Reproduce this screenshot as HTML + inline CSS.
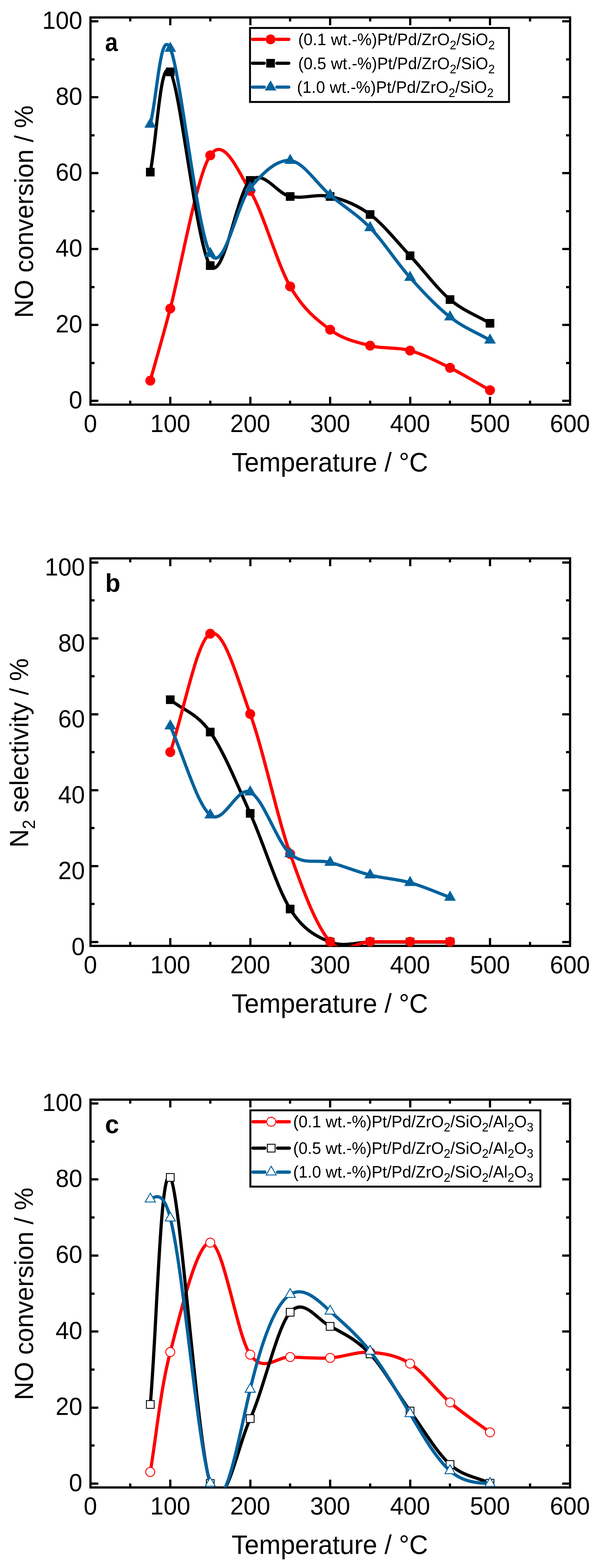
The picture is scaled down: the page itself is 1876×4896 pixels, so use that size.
<!DOCTYPE html>
<html lang="en"><head><meta charset="utf-8"><title>NO conversion and N2 selectivity versus temperature</title>
<style>html,body{margin:0;padding:0;background:#fff}body{width:1876px;height:4896px;overflow:hidden}svg{display:block}text{font-family:'Liberation Sans', Arial, sans-serif;font-size:75px;fill:#000}</style>
</head><body>
<svg width="1876" height="4896" viewBox="0 0 1876 4896">
<rect width="1876" height="4896" fill="#fff"/>
<g>
<rect x="282.5" y="54.5" width="1497" height="1209" fill="none" stroke="#000" stroke-width="7.0" shape-rendering="crispEdges"/>
<path d="M282.5 1251.5h24.3 M1779.5 1251.5h-24.3 M282.5 1133h12.6 M1779.5 1133h-12.6 M282.5 1014.5h24.3 M1779.5 1014.5h-24.3 M282.5 896h12.6 M1779.5 896h-12.6 M282.5 777.5h24.3 M1779.5 777.5h-24.3 M282.5 659h12.6 M1779.5 659h-12.6 M282.5 540.5h24.3 M1779.5 540.5h-24.3 M282.5 422h12.6 M1779.5 422h-12.6 M282.5 303.5h24.3 M1779.5 303.5h-24.3 M282.5 185h12.6 M1779.5 185h-12.6 M282.5 66.5h24.3 M1779.5 66.5h-24.3 M406.75 54.5v12.6 M406.75 1263.5v-12.6 M531.5 54.5v24.3 M531.5 1263.5v-24.3 M656.25 54.5v12.6 M656.25 1263.5v-12.6 M781 54.5v24.3 M781 1263.5v-24.3 M905.75 54.5v12.6 M905.75 1263.5v-12.6 M1030.5 54.5v24.3 M1030.5 1263.5v-24.3 M1155.25 54.5v12.6 M1155.25 1263.5v-12.6 M1280 54.5v24.3 M1280 1263.5v-24.3 M1404.75 54.5v12.6 M1404.75 1263.5v-12.6 M1529.5 54.5v24.3 M1529.5 1263.5v-24.3 M1654.25 54.5v12.6 M1654.25 1263.5v-12.6" stroke="#000" stroke-width="7.0" fill="none" shape-rendering="crispEdges"/>
<text transform="translate(257 1274.5) scale(1 1.03)" text-anchor="end">0</text>
<text transform="translate(257 1037.5) scale(1 1.03)" text-anchor="end">20</text>
<text transform="translate(257 800.5) scale(1 1.03)" text-anchor="end">40</text>
<text transform="translate(257 563.5) scale(1 1.03)" text-anchor="end">60</text>
<text transform="translate(257 326.5) scale(1 1.03)" text-anchor="end">80</text>
<text transform="translate(257 89.5) scale(1 1.03)" text-anchor="end">100</text>
<text transform="translate(282 1349.2) scale(1 1.03)" text-anchor="middle">0</text>
<text transform="translate(531.5 1349.2) scale(1 1.03)" text-anchor="middle">100</text>
<text transform="translate(781 1349.2) scale(1 1.03)" text-anchor="middle">200</text>
<text transform="translate(1030.5 1349.2) scale(1 1.03)" text-anchor="middle">300</text>
<text transform="translate(1280 1349.2) scale(1 1.03)" text-anchor="middle">400</text>
<text transform="translate(1529.5 1349.2) scale(1 1.03)" text-anchor="middle">500</text>
<text transform="translate(1779 1349.2) scale(1 1.03)" text-anchor="middle">600</text>
<clipPath id="clip0"><rect x="282.5" y="54.5" width="1497" height="1209"/></clipPath>
<path clip-path="url(#clip0)" d="M469.12 1188.6 C489.92 1113.53 500.31 1080.67 531.5 963.4 C562.69 846.13 614.67 546.23 656.25 485 C697.83 423.77 739.42 527.77 781 596 C822.58 664.23 864.17 822.17 905.75 894.4 C947.33 966.63 988.92 998.6 1030.5 1029.4 C1072.08 1060.2 1113.67 1068.32 1155.25 1079.2 C1196.83 1090.08 1238.42 1083.15 1280 1094.7 C1321.58 1106.25 1363.17 1127.87 1404.75 1148.5 C1446.33 1169.13 1487.92 1195.17 1529.5 1218.5" fill="none" stroke="#ff0000" stroke-width="10.0" stroke-linejoin="round"/>
<circle cx="469.12" cy="1188.6" r="15.5" fill="#ff0000"/>
<circle cx="531.5" cy="963.4" r="15.5" fill="#ff0000"/>
<circle cx="656.25" cy="485" r="15.5" fill="#ff0000"/>
<circle cx="781" cy="596" r="15.5" fill="#ff0000"/>
<circle cx="905.75" cy="894.4" r="15.5" fill="#ff0000"/>
<circle cx="1030.5" cy="1029.4" r="15.5" fill="#ff0000"/>
<circle cx="1155.25" cy="1079.2" r="15.5" fill="#ff0000"/>
<circle cx="1280" cy="1094.7" r="15.5" fill="#ff0000"/>
<circle cx="1404.75" cy="1148.5" r="15.5" fill="#ff0000"/>
<circle cx="1529.5" cy="1218.5" r="15.5" fill="#ff0000"/>
<path clip-path="url(#clip0)" d="M469.12 537.4 C489.92 433.03 500.31 175.65 531.5 224.3 C562.69 272.95 614.67 772.8 656.25 829.3 C697.83 885.8 739.42 599.27 781 563.3 C822.58 527.33 864.17 605.13 905.75 613.5 C947.33 621.87 988.92 604.12 1030.5 613.5 C1072.08 622.88 1113.67 638.97 1155.25 669.8 C1196.83 700.63 1238.42 754.23 1280 798.5 C1321.58 842.77 1363.17 900.23 1404.75 935.4 C1446.33 970.57 1487.92 984.8 1529.5 1009.5" fill="none" stroke="#000000" stroke-width="10.0" stroke-linejoin="round"/>
<rect x="455.62" y="523.9" width="27.0" height="27.0" fill="#000000"/>
<rect x="518" y="210.8" width="27.0" height="27.0" fill="#000000"/>
<rect x="642.75" y="815.8" width="27.0" height="27.0" fill="#000000"/>
<rect x="767.5" y="549.8" width="27.0" height="27.0" fill="#000000"/>
<rect x="892.25" y="600" width="27.0" height="27.0" fill="#000000"/>
<rect x="1017" y="600" width="27.0" height="27.0" fill="#000000"/>
<rect x="1141.75" y="656.3" width="27.0" height="27.0" fill="#000000"/>
<rect x="1266.5" y="785" width="27.0" height="27.0" fill="#000000"/>
<rect x="1391.25" y="921.9" width="27.0" height="27.0" fill="#000000"/>
<rect x="1516" y="996" width="27.0" height="27.0" fill="#000000"/>
<path clip-path="url(#clip0)" d="M469.12 388.2 C489.92 309.2 500.31 83.9 531.5 151.2 C562.69 218.5 614.67 719.47 656.25 792 C697.83 864.53 739.42 634.85 781 586.4 C822.58 537.95 864.17 497.48 905.75 501.3 C947.33 505.12 988.92 574.33 1030.5 609.3 C1072.08 644.27 1113.67 668.23 1155.25 711.1 C1196.83 753.97 1238.42 820.03 1280 866.5 C1321.58 912.97 1363.17 957.27 1404.75 989.9 C1446.33 1022.53 1487.92 1038.17 1529.5 1062.3" fill="none" stroke="#03629c" stroke-width="10.0" stroke-linejoin="round"/>
<polygon points="469.12,367.07 450.82,398.77 487.43,398.77" fill="#03629c"/>
<polygon points="531.5,130.07 513.2,161.77 549.8,161.77" fill="#03629c"/>
<polygon points="656.25,770.87 637.95,802.57 674.55,802.57" fill="#03629c"/>
<polygon points="781,565.27 762.7,596.97 799.3,596.97" fill="#03629c"/>
<polygon points="905.75,480.17 887.45,511.87 924.05,511.87" fill="#03629c"/>
<polygon points="1030.5,588.17 1012.2,619.87 1048.8,619.87" fill="#03629c"/>
<polygon points="1155.25,689.97 1136.95,721.67 1173.55,721.67" fill="#03629c"/>
<polygon points="1280,845.37 1261.7,877.07 1298.3,877.07" fill="#03629c"/>
<polygon points="1404.75,968.77 1386.45,1000.47 1423.05,1000.47" fill="#03629c"/>
<polygon points="1529.5,1041.17 1511.2,1072.87 1547.8,1072.87" fill="#03629c"/>
<rect x="780.4" y="87.3" width="808.4" height="231.1" fill="#fff"/>
<path d="M788.1 122.9H824.8 M864.2 122.9H901.4" stroke="#ff0000" stroke-width="10.2" stroke-linecap="round" fill="none"/>
<circle cx="844.5" cy="122.9" r="15.5" fill="#ff0000"/>
<text transform="translate(930.7 141.3) scale(1 1.03)" style="font-size:50.4px;letter-spacing:0.28px">(0.1 wt.-%)Pt/Pd/ZrO<tspan style="font-size:37px" dy="12.6">2</tspan><tspan dy="-12.6">/SiO</tspan><tspan style="font-size:37px" dy="12.6">2</tspan></text>
<path d="M788.1 197.5H824.8 M864.2 197.5H901.4" stroke="#000000" stroke-width="10.2" stroke-linecap="round" fill="none"/>
<rect x="831" y="184" width="27.0" height="27.0" fill="#000000"/>
<text transform="translate(930.7 215.9) scale(1 1.03)" style="font-size:50.4px;letter-spacing:0.28px">(0.5 wt.-%)Pt/Pd/ZrO<tspan style="font-size:37px" dy="12.6">2</tspan><tspan dy="-12.6">/SiO</tspan><tspan style="font-size:37px" dy="12.6">2</tspan></text>
<path d="M788.1 272H824.8 M864.2 272H901.4" stroke="#03629c" stroke-width="10.2" stroke-linecap="round" fill="none"/>
<polygon points="844.5,250.87 826.2,282.57 862.8,282.57" fill="#03629c"/>
<text transform="translate(927 290.4) scale(1 1.03)" style="font-size:50.4px;letter-spacing:0.28px">(1.0 wt.-%)Pt/Pd/ZrO<tspan style="font-size:37px" dy="12.6">2</tspan><tspan dy="-12.6">/SiO</tspan><tspan style="font-size:37px" dy="12.6">2</tspan></text>
<rect x="780.4" y="87.3" width="808.4" height="231.1" fill="none" stroke="#000" stroke-width="6"/>
<text transform="translate(328 158.7) scale(0.94 1.05)" font-weight="bold" style="font-size:76px">a</text>
<text transform="translate(1029.5 1472) scale(1 1.03)" text-anchor="middle" style="font-size:81px">Temperature / °C</text>
<text transform="translate(103 661) rotate(-90) scale(1 1.03)" text-anchor="middle" style="font-size:79.6px">NO conversion / %</text>
</g>
<g>
<rect x="282.5" y="1743.5" width="1497" height="1210" fill="none" stroke="#000" stroke-width="7.0" shape-rendering="crispEdges"/>
<path d="M282.5 2941.5h24.3 M1779.5 2941.5h-24.3 M282.5 2822.95h12.6 M1779.5 2822.95h-12.6 M282.5 2704.4h24.3 M1779.5 2704.4h-24.3 M282.5 2585.85h12.6 M1779.5 2585.85h-12.6 M282.5 2467.3h24.3 M1779.5 2467.3h-24.3 M282.5 2348.75h12.6 M1779.5 2348.75h-12.6 M282.5 2230.2h24.3 M1779.5 2230.2h-24.3 M282.5 2111.65h12.6 M1779.5 2111.65h-12.6 M282.5 1993.1h24.3 M1779.5 1993.1h-24.3 M282.5 1874.55h12.6 M1779.5 1874.55h-12.6 M282.5 1756h24.3 M1779.5 1756h-24.3 M406.75 1743.5v12.6 M406.75 2953.5v-12.6 M531.5 1743.5v24.3 M531.5 2953.5v-24.3 M656.25 1743.5v12.6 M656.25 2953.5v-12.6 M781 1743.5v24.3 M781 2953.5v-24.3 M905.75 1743.5v12.6 M905.75 2953.5v-12.6 M1030.5 1743.5v24.3 M1030.5 2953.5v-24.3 M1155.25 1743.5v12.6 M1155.25 2953.5v-12.6 M1280 1743.5v24.3 M1280 2953.5v-24.3 M1404.75 1743.5v12.6 M1404.75 2953.5v-12.6 M1529.5 1743.5v24.3 M1529.5 2953.5v-24.3 M1654.25 1743.5v12.6 M1654.25 2953.5v-12.6" stroke="#000" stroke-width="7.0" fill="none" shape-rendering="crispEdges"/>
<text transform="translate(265 2982) scale(1 1.03)" text-anchor="end">0</text>
<text transform="translate(265 2744.9) scale(1 1.03)" text-anchor="end">20</text>
<text transform="translate(265 2507.8) scale(1 1.03)" text-anchor="end">40</text>
<text transform="translate(265 2270.7) scale(1 1.03)" text-anchor="end">60</text>
<text transform="translate(265 2033.6) scale(1 1.03)" text-anchor="end">80</text>
<text transform="translate(265 1796.5) scale(1 1.03)" text-anchor="end">100</text>
<text transform="translate(282 3039) scale(1 1.03)" text-anchor="middle">0</text>
<text transform="translate(531.5 3039) scale(1 1.03)" text-anchor="middle">100</text>
<text transform="translate(781 3039) scale(1 1.03)" text-anchor="middle">200</text>
<text transform="translate(1030.5 3039) scale(1 1.03)" text-anchor="middle">300</text>
<text transform="translate(1280 3039) scale(1 1.03)" text-anchor="middle">400</text>
<text transform="translate(1529.5 3039) scale(1 1.03)" text-anchor="middle">500</text>
<text transform="translate(1779 3039) scale(1 1.03)" text-anchor="middle">600</text>
<clipPath id="clip1"><rect x="282.5" y="1743.5" width="1497" height="1210"/></clipPath>
<path clip-path="url(#clip1)" d="M531.5 2184.8 C573.08 2218.47 614.67 2226.65 656.25 2285.8 C697.83 2344.95 739.42 2447.6 781 2539.7 C822.58 2631.8 864.17 2771.45 905.75 2838.4 C947.33 2905.35 988.92 2924.23 1030.5 2941.4 C1072.08 2958.57 1113.67 2941.4 1155.25 2941.4 C1196.83 2941.4 1238.42 2941.4 1280 2941.4 C1321.58 2941.4 1363.17 2941.4 1404.75 2941.4" fill="none" stroke="#000000" stroke-width="10.0" stroke-linejoin="round"/>
<rect x="518" y="2171.3" width="27.0" height="27.0" fill="#000000"/>
<rect x="642.75" y="2272.3" width="27.0" height="27.0" fill="#000000"/>
<rect x="767.5" y="2526.2" width="27.0" height="27.0" fill="#000000"/>
<rect x="892.25" y="2824.9" width="27.0" height="27.0" fill="#000000"/>
<rect x="1017" y="2927.9" width="27.0" height="27.0" fill="#000000"/>
<rect x="1141.75" y="2927.9" width="27.0" height="27.0" fill="#000000"/>
<rect x="1266.5" y="2927.9" width="27.0" height="27.0" fill="#000000"/>
<rect x="1391.25" y="2927.9" width="27.0" height="27.0" fill="#000000"/>
<path clip-path="url(#clip1)" d="M531.5 2348.4 C573.08 2225.17 614.67 1998.53 656.25 1978.7 C697.83 1958.87 739.42 2114.82 781 2229.4 C822.58 2343.98 864.17 2547.7 905.75 2666.2 C947.33 2784.7 988.92 2894.7 1030.5 2940.4 C1072.08 2986.1 1113.67 2940.4 1155.25 2940.4 C1196.83 2940.4 1238.42 2940.4 1280 2940.4 C1321.58 2940.4 1363.17 2940.4 1404.75 2940.4" fill="none" stroke="#ff0000" stroke-width="10.0" stroke-linejoin="round"/>
<circle cx="531.5" cy="2348.4" r="15.5" fill="#ff0000"/>
<circle cx="656.25" cy="1978.7" r="15.5" fill="#ff0000"/>
<circle cx="781" cy="2229.4" r="15.5" fill="#ff0000"/>
<circle cx="905.75" cy="2666.2" r="15.5" fill="#ff0000"/>
<circle cx="1030.5" cy="2940.4" r="15.5" fill="#ff0000"/>
<circle cx="1155.25" cy="2940.4" r="15.5" fill="#ff0000"/>
<circle cx="1280" cy="2940.4" r="15.5" fill="#ff0000"/>
<circle cx="1404.75" cy="2940.4" r="15.5" fill="#ff0000"/>
<path clip-path="url(#clip1)" d="M531.5 2267 C573.08 2359.67 614.67 2510.63 656.25 2545 C697.83 2579.37 739.42 2453.03 781 2473.2 C822.58 2493.37 864.17 2629.37 905.75 2666 C947.33 2702.63 988.92 2681.95 1030.5 2693 C1072.08 2704.05 1113.67 2721.8 1155.25 2732.3 C1196.83 2742.8 1238.42 2744.4 1280 2756 C1321.58 2767.6 1363.17 2786.6 1404.75 2801.9" fill="none" stroke="#03629c" stroke-width="10.0" stroke-linejoin="round"/>
<polygon points="531.5,2245.87 513.2,2277.57 549.8,2277.57" fill="#03629c"/>
<polygon points="656.25,2523.87 637.95,2555.57 674.55,2555.57" fill="#03629c"/>
<polygon points="781,2452.07 762.7,2483.77 799.3,2483.77" fill="#03629c"/>
<polygon points="905.75,2644.87 887.45,2676.57 924.05,2676.57" fill="#03629c"/>
<polygon points="1030.5,2671.87 1012.2,2703.57 1048.8,2703.57" fill="#03629c"/>
<polygon points="1155.25,2711.17 1136.95,2742.87 1173.55,2742.87" fill="#03629c"/>
<polygon points="1280,2734.87 1261.7,2766.57 1298.3,2766.57" fill="#03629c"/>
<polygon points="1404.75,2780.77 1386.45,2812.47 1423.05,2812.47" fill="#03629c"/>
<text transform="translate(328.5 1848) scale(1.02 1.05)" font-weight="bold" style="font-size:76px">b</text>
<text transform="translate(1029.5 3161.5) scale(1 1.03)" text-anchor="middle" style="font-size:81px">Temperature / °C</text>
<text transform="translate(88 2351) rotate(-90) scale(1 1.03)" text-anchor="middle" style="font-size:79.6px">N<tspan style="font-size:53px" dy="20.2">2</tspan><tspan dy="-20.2"> selectivity / %</tspan></text>
</g>
<g>
<rect x="282.5" y="3433.5" width="1497" height="1211" fill="none" stroke="#000" stroke-width="7.0" shape-rendering="crispEdges"/>
<path d="M282.5 4632.5h24.3 M1779.5 4632.5h-24.3 M282.5 4513.8h12.6 M1779.5 4513.8h-12.6 M282.5 4395.1h24.3 M1779.5 4395.1h-24.3 M282.5 4276.4h12.6 M1779.5 4276.4h-12.6 M282.5 4157.7h24.3 M1779.5 4157.7h-24.3 M282.5 4039h12.6 M1779.5 4039h-12.6 M282.5 3920.3h24.3 M1779.5 3920.3h-24.3 M282.5 3801.6h12.6 M1779.5 3801.6h-12.6 M282.5 3682.9h24.3 M1779.5 3682.9h-24.3 M282.5 3564.2h12.6 M1779.5 3564.2h-12.6 M282.5 3445.5h24.3 M1779.5 3445.5h-24.3 M406.75 3433.5v12.6 M406.75 4644.5v-12.6 M531.5 3433.5v24.3 M531.5 4644.5v-24.3 M656.25 3433.5v12.6 M656.25 4644.5v-12.6 M781 3433.5v24.3 M781 4644.5v-24.3 M905.75 3433.5v12.6 M905.75 4644.5v-12.6 M1030.5 3433.5v24.3 M1030.5 4644.5v-24.3 M1155.25 3433.5v12.6 M1155.25 4644.5v-12.6 M1280 3433.5v24.3 M1280 4644.5v-24.3 M1404.75 3433.5v12.6 M1404.75 4644.5v-12.6 M1529.5 3433.5v24.3 M1529.5 4644.5v-24.3 M1654.25 3433.5v12.6 M1654.25 4644.5v-12.6" stroke="#000" stroke-width="7.0" fill="none" shape-rendering="crispEdges"/>
<text transform="translate(257 4655.5) scale(1 1.03)" text-anchor="end">0</text>
<text transform="translate(257 4418.1) scale(1 1.03)" text-anchor="end">20</text>
<text transform="translate(257 4180.7) scale(1 1.03)" text-anchor="end">40</text>
<text transform="translate(257 3943.3) scale(1 1.03)" text-anchor="end">60</text>
<text transform="translate(257 3705.9) scale(1 1.03)" text-anchor="end">80</text>
<text transform="translate(257 3468.5) scale(1 1.03)" text-anchor="end">100</text>
<text transform="translate(282 4729.2) scale(1 1.03)" text-anchor="middle">0</text>
<text transform="translate(531.5 4729.2) scale(1 1.03)" text-anchor="middle">100</text>
<text transform="translate(781 4729.2) scale(1 1.03)" text-anchor="middle">200</text>
<text transform="translate(1030.5 4729.2) scale(1 1.03)" text-anchor="middle">300</text>
<text transform="translate(1280 4729.2) scale(1 1.03)" text-anchor="middle">400</text>
<text transform="translate(1529.5 4729.2) scale(1 1.03)" text-anchor="middle">500</text>
<text transform="translate(1779 4729.2) scale(1 1.03)" text-anchor="middle">600</text>
<clipPath id="clip2"><rect x="282.5" y="3433.5" width="1497" height="1211"/></clipPath>
<path clip-path="url(#clip2)" d="M469.12 4596 C489.92 4471.27 500.31 4341.12 531.5 4221.8 C562.69 4102.48 614.67 3878.78 656.25 3880.1 C697.83 3881.42 739.42 4170.18 781 4229.7 C822.58 4289.22 864.17 4235.48 905.75 4237.2 C947.33 4238.92 988.92 4242.45 1030.5 4240 C1072.08 4237.55 1113.67 4219.55 1155.25 4222.5 C1196.83 4225.45 1238.42 4231.63 1280 4257.7 C1321.58 4283.77 1363.17 4343.12 1404.75 4378.9 C1446.33 4414.68 1487.92 4441.23 1529.5 4472.4" fill="none" stroke="#ff0000" stroke-width="10.0" stroke-linejoin="round"/>
<circle cx="469.12" cy="4596" r="14.1" fill="#fff" stroke="#ff0000" stroke-width="2.8"/>
<circle cx="531.5" cy="4221.8" r="14.1" fill="#fff" stroke="#ff0000" stroke-width="2.8"/>
<circle cx="656.25" cy="3880.1" r="14.1" fill="#fff" stroke="#ff0000" stroke-width="2.8"/>
<circle cx="781" cy="4229.7" r="14.1" fill="#fff" stroke="#ff0000" stroke-width="2.8"/>
<circle cx="905.75" cy="4237.2" r="14.1" fill="#fff" stroke="#ff0000" stroke-width="2.8"/>
<circle cx="1030.5" cy="4240" r="14.1" fill="#fff" stroke="#ff0000" stroke-width="2.8"/>
<circle cx="1155.25" cy="4222.5" r="14.1" fill="#fff" stroke="#ff0000" stroke-width="2.8"/>
<circle cx="1280" cy="4257.7" r="14.1" fill="#fff" stroke="#ff0000" stroke-width="2.8"/>
<circle cx="1404.75" cy="4378.9" r="14.1" fill="#fff" stroke="#ff0000" stroke-width="2.8"/>
<circle cx="1529.5" cy="4472.4" r="14.1" fill="#fff" stroke="#ff0000" stroke-width="2.8"/>
<path clip-path="url(#clip2)" d="M469.12 4385.4 C489.92 4149.07 500.31 3635.28 531.5 3676.4 C562.69 3717.52 614.67 4506.57 656.25 4632.1 C697.83 4757.63 739.42 4518.7 781 4429.6 C822.58 4340.5 864.17 4145.52 905.75 4097.5 C947.33 4049.48 988.92 4119.82 1030.5 4141.5 C1072.08 4163.18 1113.67 4183.53 1155.25 4227.6 C1196.83 4271.67 1238.42 4348.38 1280 4405.9 C1321.58 4463.42 1363.17 4535.12 1404.75 4572.7 C1446.33 4610.28 1487.92 4611.83 1529.5 4631.4" fill="none" stroke="#000000" stroke-width="10.0" stroke-linejoin="round"/>
<rect x="456.98" y="4373.25" width="24.3" height="24.3" fill="#fff" stroke="#000000" stroke-width="2.7"/>
<rect x="519.35" y="3664.25" width="24.3" height="24.3" fill="#fff" stroke="#000000" stroke-width="2.7"/>
<rect x="644.1" y="4619.95" width="24.3" height="24.3" fill="#fff" stroke="#000000" stroke-width="2.7"/>
<rect x="768.85" y="4417.45" width="24.3" height="24.3" fill="#fff" stroke="#000000" stroke-width="2.7"/>
<rect x="893.6" y="4085.35" width="24.3" height="24.3" fill="#fff" stroke="#000000" stroke-width="2.7"/>
<rect x="1018.35" y="4129.35" width="24.3" height="24.3" fill="#fff" stroke="#000000" stroke-width="2.7"/>
<rect x="1143.1" y="4215.45" width="24.3" height="24.3" fill="#fff" stroke="#000000" stroke-width="2.7"/>
<rect x="1267.85" y="4393.75" width="24.3" height="24.3" fill="#fff" stroke="#000000" stroke-width="2.7"/>
<rect x="1392.6" y="4560.55" width="24.3" height="24.3" fill="#fff" stroke="#000000" stroke-width="2.7"/>
<rect x="1517.35" y="4619.25" width="24.3" height="24.3" fill="#fff" stroke="#000000" stroke-width="2.7"/>
<path clip-path="url(#clip2)" d="M469.12 3744 C489.92 3733.15 510.71 3722.3 531.5 3803.3 C573.08 3965.29 614.67 4494.65 656.25 4631.6 C697.83 4768.55 739.42 4513.09 781 4338.1 C822.58 4163.11 864.17 4068.61 905.75 4041.9 C947.33 4015.19 988.92 4056.28 1030.5 4094.1 C1072.08 4131.92 1113.67 4166.45 1155.25 4219.3 C1196.83 4272.15 1238.42 4343.3 1280 4414.3 C1321.58 4485.3 1363.17 4556.14 1404.75 4592.4 C1446.33 4628.66 1487.92 4630.33 1529.5 4632" fill="none" stroke="#03629c" stroke-width="10.0" stroke-linejoin="round"/>
<polygon points="469.12,3725.67 453.25,3753.17 485,3753.17" fill="#fff" stroke="#03629c" stroke-width="2.8" stroke-linejoin="miter"/>
<polygon points="531.5,3784.97 515.62,3812.47 547.38,3812.47" fill="#fff" stroke="#03629c" stroke-width="2.8" stroke-linejoin="miter"/>
<polygon points="656.25,4613.27 640.37,4640.77 672.13,4640.77" fill="#fff" stroke="#03629c" stroke-width="2.8" stroke-linejoin="miter"/>
<polygon points="781,4319.77 765.12,4347.27 796.88,4347.27" fill="#fff" stroke="#03629c" stroke-width="2.8" stroke-linejoin="miter"/>
<polygon points="905.75,4023.57 889.87,4051.07 921.63,4051.07" fill="#fff" stroke="#03629c" stroke-width="2.8" stroke-linejoin="miter"/>
<polygon points="1030.5,4075.77 1014.62,4103.27 1046.38,4103.27" fill="#fff" stroke="#03629c" stroke-width="2.8" stroke-linejoin="miter"/>
<polygon points="1155.25,4200.97 1139.37,4228.47 1171.13,4228.47" fill="#fff" stroke="#03629c" stroke-width="2.8" stroke-linejoin="miter"/>
<polygon points="1280,4395.97 1264.12,4423.47 1295.88,4423.47" fill="#fff" stroke="#03629c" stroke-width="2.8" stroke-linejoin="miter"/>
<polygon points="1404.75,4574.07 1388.87,4601.57 1420.63,4601.57" fill="#fff" stroke="#03629c" stroke-width="2.8" stroke-linejoin="miter"/>
<polygon points="1529.5,4613.67 1513.62,4641.17 1545.38,4641.17" fill="#fff" stroke="#03629c" stroke-width="2.8" stroke-linejoin="miter"/>
<rect x="781.5" y="3467" width="905.3" height="238.2" fill="#fff"/>
<path d="M789.4 3502.6H826.8 M866.2 3502.6H903.2" stroke="#ff0000" stroke-width="10.2" stroke-linecap="round" fill="none"/>
<circle cx="846.5" cy="3502.6" r="14.1" fill="#fff" stroke="#ff0000" stroke-width="2.8"/>
<text transform="translate(915 3520.1) scale(1 1.03)" style="font-size:50.4px;letter-spacing:0.13px">(0.1 wt.-%)Pt/Pd/ZrO<tspan style="font-size:37px" dy="12.6">2</tspan><tspan dy="-12.6">/SiO</tspan><tspan style="font-size:37px" dy="12.6">2</tspan><tspan dy="-12.6">/Al</tspan><tspan style="font-size:37px" dy="12.6">2</tspan><tspan dy="-12.6">O</tspan><tspan style="font-size:37px" dy="12.6">3</tspan></text>
<path d="M789.4 3585H826.8 M866.2 3585H903.2" stroke="#000000" stroke-width="10.2" stroke-linecap="round" fill="none"/>
<rect x="834.35" y="3572.85" width="24.3" height="24.3" fill="#fff" stroke="#000000" stroke-width="2.7"/>
<text transform="translate(915 3602.5) scale(1 1.03)" style="font-size:50.4px;letter-spacing:0.13px">(0.5 wt.-%)Pt/Pd/ZrO<tspan style="font-size:37px" dy="12.6">2</tspan><tspan dy="-12.6">/SiO</tspan><tspan style="font-size:37px" dy="12.6">2</tspan><tspan dy="-12.6">/Al</tspan><tspan style="font-size:37px" dy="12.6">2</tspan><tspan dy="-12.6">O</tspan><tspan style="font-size:37px" dy="12.6">3</tspan></text>
<path d="M789.4 3659.8H826.8 M866.2 3659.8H903.2" stroke="#03629c" stroke-width="10.2" stroke-linecap="round" fill="none"/>
<polygon points="846.5,3641.47 830.62,3668.97 862.38,3668.97" fill="#fff" stroke="#03629c" stroke-width="2.8" stroke-linejoin="miter"/>
<text transform="translate(915 3677.3) scale(1 1.03)" style="font-size:50.4px;letter-spacing:0.13px">(1.0 wt.-%)Pt/Pd/ZrO<tspan style="font-size:37px" dy="12.6">2</tspan><tspan dy="-12.6">/SiO</tspan><tspan style="font-size:37px" dy="12.6">2</tspan><tspan dy="-12.6">/Al</tspan><tspan style="font-size:37px" dy="12.6">2</tspan><tspan dy="-12.6">O</tspan><tspan style="font-size:37px" dy="12.6">3</tspan></text>
<rect x="781.5" y="3467" width="905.3" height="238.2" fill="none" stroke="#000" stroke-width="6"/>
<text transform="translate(327.7 3538.2) scale(1.035 1.05)" font-weight="bold" style="font-size:76px">c</text>
<text transform="translate(1029.5 4851.5) scale(1 1.03)" text-anchor="middle" style="font-size:81px">Temperature / °C</text>
<text transform="translate(103 4040) rotate(-90) scale(1 1.03)" text-anchor="middle" style="font-size:79.6px">NO conversion / %</text>
</g>
</svg></body></html>
